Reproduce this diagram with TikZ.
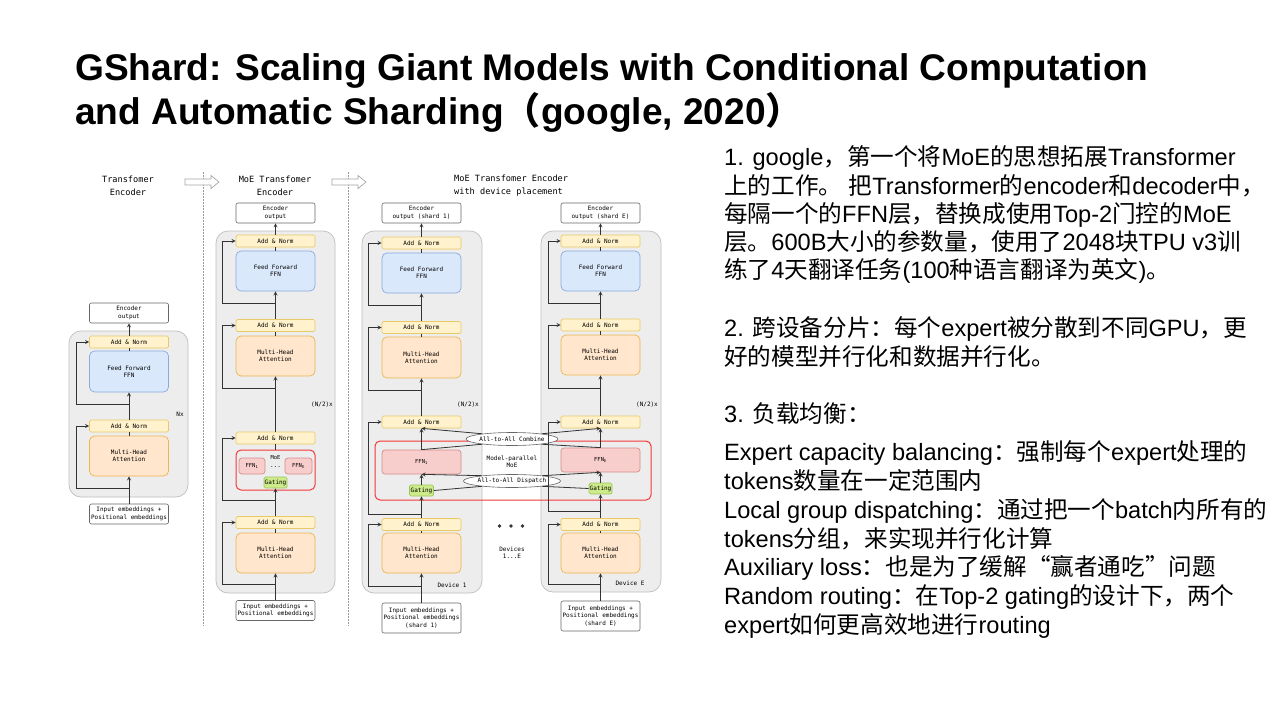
\documentclass[tikz,border=0pt]{standalone}
\usepackage{fontspec}
\setmainfont{Liberation Sans}
\setmonofont{DejaVu Sans Mono}
\newfontfamily\cjk{Noto Sans CJK SC}
\usetikzlibrary{shapes.geometric, arrows, positioning}

\newcommand{\zh}[1]{{\cjk #1}}
\newcommand{\diagfont}{\fontsize{6}{7.4}\selectfont\ttfamily}

\definecolor{panelgray}{HTML}{EDEDED}
\definecolor{panelline}{HTML}{BFBFBF}
\definecolor{normfill}{HTML}{FFF2CC}
\definecolor{normline}{HTML}{E9C965}
\definecolor{fffill}{HTML}{DAE8FC}
\definecolor{ffline}{HTML}{88AADD}
\definecolor{attnfill}{HTML}{FFE6CC}
\definecolor{attnline}{HTML}{EBB54F}
\definecolor{expfill}{HTML}{F8CECC}
\definecolor{expline}{HTML}{D48C8A}
\definecolor{gatefill}{HTML}{CDEB8B}
\definecolor{gateline}{HTML}{9CC45C}
\definecolor{moered}{HTML}{F43838}
\definecolor{ioline}{HTML}{666666}
\definecolor{wirecol}{HTML}{333333}

\tikzstyle{slidetitle} = [align=left, inner sep=0pt,
font=\fontsize{37.1}{44}\selectfont\bfseries]
\tikzstyle{bodytext} = [align=left, inner sep=0pt,
font=\fontsize{23.6}{28.3}\selectfont]
\tikzstyle{panel} = [rectangle, rounded corners=12pt,
inner sep=0pt,
draw=panelline, line width=0.7pt,
fill=panelgray]
\tikzstyle{addnorm} = [rectangle, rounded corners=1.5pt,
minimum width=79pt,
minimum height=12pt,
inner sep=0pt, font=\diagfont,
draw=normline, line width=0.7pt,
fill=normfill]
\tikzstyle{ffwd} = [rectangle, rounded corners=5pt,
minimum width=79pt,
minimum height=40pt,
inner sep=0pt, align=center, font=\diagfont,
draw=ffline, line width=0.7pt,
fill=fffill]
\tikzstyle{attn} = [rectangle, rounded corners=5pt,
minimum width=79pt,
minimum height=40pt,
inner sep=0pt, align=center, font=\diagfont,
draw=attnline, line width=0.7pt,
fill=attnfill]
\tikzstyle{iobox} = [rectangle, rounded corners=2pt,
minimum width=79pt,
minimum height=20pt,
inner sep=0pt, align=center, font=\diagfont,
draw=ioline, line width=0.6pt,
fill=white]
\tikzstyle{expert} = [rectangle, rounded corners=3pt,
inner sep=0pt, font=\fontsize{5.5}{6.5}\selectfont\ttfamily,
draw=expline, line width=0.7pt,
fill=expfill]
\tikzstyle{gate} = [rectangle, rounded corners=1.5pt,
minimum width=23pt,
minimum height=11pt,
inner sep=0pt, font=\diagfont,
draw=gateline, line width=0.7pt,
fill=gatefill]
\tikzstyle{moebox} = [rectangle, rounded corners=5pt,
inner sep=0pt,
draw=moered, line width=1pt]
\tikzstyle{a2a} = [ellipse,
minimum width=80pt,
minimum height=13pt,
inner sep=0pt, font=\diagfont,
draw=ioline, line width=0.6pt,
fill=white]
\tikzstyle{coltitle} = [align=center, inner sep=0pt,
font=\fontsize{8.6}{13}\selectfont\ttfamily]
\tikzstyle{note} = [align=center, inner sep=0pt, font=\diagfont]
\tikzstyle{sepline} = [draw=gray!80, line width=0.6pt, dash pattern=on 1.5pt off 1.5pt]
\tikzstyle{hollow} = [draw=gray!70, line width=0.7pt, fill=white]
\tikzstyle{link} = [draw=wirecol, line width=0.8pt]
\tikzstyle{arrow} = [draw=wirecol, line width=0.8pt, ->, >=stealth]

\begin{document}
\begin{tikzpicture}[x=1pt, y=-1pt]
    \fill [white] (0,0) rectangle (1280,720);
    \useasboundingbox (0,0) rectangle (1280,720);

    % slide title (base = last line)
    \node (title) [slidetitle, anchor=base west] at (75,124)
    {GShard: Scaling Giant Models with Conditional Computation\\
    and Automatic Sharding\zh{（}google, 2020\zh{）}};

    % separators between the three figures
    \draw [sepline] (203,172) -- (203,626);
    \draw [sepline] (348,172) -- (348,626);
    \draw [hollow] (185,179) -- (211,179) -- (211,175.5) -- (219,182) -- (211,188.5) -- (211,185) -- (185,185) -- cycle;
    \draw [hollow] (332,179) -- (358,179) -- (358,175.5) -- (366,182) -- (358,188.5) -- (358,185) -- (332,185) -- cycle;

    % plain transformer encoder
    \node (titleL) [coltitle] at (128,185.5) {Transfomer\\Encoder};
    \node (panelL) [panel, minimum width=119pt, minimum height=166pt] at (128.5,414) {};
    \node (encL) [iobox] at (129,313) {Encoder\\output};
    \node (anL1) [addnorm] at (129,342) {Add \& Norm};
    \node (ffL) [ffwd, minimum height=41pt] at (129,371.5) {Feed Forward\\FFN};
    \node (anL2) [addnorm] at (129,426) {Add \& Norm};
    \node (mhL) [attn] at (129,456) {Multi-Head\\Attention};
    \node (inL) [iobox] at (129,514) {Input embeddings +\\Positional embeddings};
    \node (nx) [note] at (180,414) {Nx};
    \coordinate (rL1) at (129,404);
    \coordinate (rL2) at (129,488);

    \draw [arrow] (inL.north) -- (mhL.south);
    \draw [link] (mhL.north) -- (anL2.south);
    \draw [arrow] (anL2.north) -- (ffL.south);
    \draw [link] (ffL.north) -- (anL1.south);
    \draw [arrow] (anL1.north) -- (encL.south);
    \draw [arrow] (rL2) -- ++(-53,0) |- (anL2.west);
    \draw [arrow] (rL1) -- ++(-53,0) |- (anL1.west);

    % MoE transformer encoder
    \node (titleM) [coltitle] at (275,185.5) {MoE Transfomer\\Encoder};
    \node (panelM) [panel, minimum width=119pt, minimum height=362pt] at (275.5,412) {};
    \node (encM) [iobox] at (275.5,213) {Encoder\\output};
    \node (anM1) [addnorm] at (275.5,241) {Add \& Norm};
    \node (ffM) [ffwd] at (275.5,271) {Feed Forward\\FFN};
    \node (anM2) [addnorm] at (275.5,325.5) {Add \& Norm};
    \node (mhM) [attn] at (275.5,356) {Multi-Head\\Attention};
    \node (nM) [note] at (322,405) {(N/2)x};
    \node (anM3) [addnorm] at (275.5,438) {Add \& Norm};
    \node (moeM) [moebox, minimum width=79pt, minimum height=40pt] at (275.5,470) {};
    \node (moeTag) [note, font=\fontsize{5.5}{6.5}\selectfont\ttfamily] at (275.5,457.5) {MoE};
    \node (ffnM1) [expert, minimum width=26pt, minimum height=16pt] at (252,466) {FFN\textsubscript{1}};
    \node (ffnME) [expert, minimum width=27pt, minimum height=16pt] at (298.5,466) {FFN\textsubscript{E}};
    \node (dotsM) [note] at (275.5,467.5) {...};
    \node (gateM) [gate] at (275.5,482.5) {Gating};
    \node (anM4) [addnorm] at (275.5,522.5) {Add \& Norm};
    \node (mhM2) [attn] at (275.5,553) {Multi-Head\\Attention};
    \node (inM) [iobox] at (275.5,610.5) {Input embeddings +\\Positional embeddings};
    \coordinate (rM1) at (275.5,303);
    \coordinate (rM2) at (275.5,388);
    \coordinate (rM3) at (275.5,500);
    \coordinate (rM4) at (275.5,584);

    \draw [arrow] (inM.north) -- (mhM2.south);
    \draw [link] (mhM2.north) -- (anM4.south);
    \draw [arrow] (anM4.north) -- (gateM.south);
    \draw [link] (moeM.north) -- (anM3.south);
    \draw [arrow] (anM3.north) -- (mhM.south);
    \draw [link] (mhM.north) -- (anM2.south);
    \draw [arrow] (anM2.north) -- (ffM.south);
    \draw [link] (ffM.north) -- (anM1.south);
    \draw [arrow] (anM1.north) -- (encM.south);
    \draw [arrow] (rM4) -- ++(-53,0) |- (anM4.west);
    \draw [arrow] (rM3) -- ++(-53,0) |- (anM3.west);
    \draw [arrow] (rM2) -- ++(-53,0) |- (anM2.west);
    \draw [arrow] (rM1) -- ++(-53,0) |- (anM1.west);

    % MoE encoder with device placement
    \node (titleD) [coltitle, align=left, anchor=west] at (454,185.5) {MoE Transfomer Encoder\\with device placement};
    \node (panel1) [panel, minimum width=120pt, minimum height=362pt] at (422,412) {};
    \node (panelE) [panel, minimum width=120pt, minimum height=361pt] at (601,411.5) {};
    \node (moeBig) [moebox, minimum width=276pt, minimum height=59pt] at (513,470.5) {};
    \node (mpTag) [note] at (512,462) {Model-parallel\\MoE};
    \node (combine) [a2a] at (512,439) {All-to-All Combine};
    \node (dispatch) [a2a] at (512,481) {All-to-All Dispatch};
    \fill [wirecol] (499.5,526) circle (1.8pt) (511,526) circle (1.8pt) (522.5,526) circle (1.8pt);
    \node (devs) [note] at (512,553) {Devices\\1...E};

    % device 1
    \node (enc1) [iobox] at (421.5,213) {Encoder\\output (shard 1)};
    \node (an11) [addnorm] at (421.5,243) {Add \& Norm};
    \node (ff1) [ffwd] at (421.5,273) {Feed Forward\\FFN};
    \node (an12) [addnorm] at (421.5,327.5) {Add \& Norm};
    \node (mh1) [attn, minimum height=41pt] at (421.5,357.5) {Multi-Head\\Attention};
    \node (n1) [note] at (468,405) {(N/2)x};
    \node (an13) [addnorm] at (421.5,422) {Add \& Norm};
    \node (ffn1) [expert, minimum width=79pt, minimum height=24pt] at (421.5,462) {FFN\textsubscript{1}};
    \node (gate1) [gate, minimum width=24pt] at (421.5,490.5) {Gating};
    \node (an14) [addnorm] at (421.5,524.5) {Add \& Norm};
    \node (mh14) [attn] at (421.5,553) {Multi-Head\\Attention};
    \node (dev1) [note] at (452,585) {Device 1};
    \node (in1) [iobox, minimum height=30pt] at (421.5,618) {Input embeddings +\\Positional embeddings\\(shard 1)};
    \coordinate (r11) at (421.5,305);
    \coordinate (r12) at (421.5,390);
    \coordinate (r13) at (421.5,514);
    \coordinate (r14) at (421.5,586);

    % device E
    \node (encE) [iobox] at (600.5,213) {Encoder\\output (shard E)};
    \node (anE1) [addnorm] at (600.5,241) {Add \& Norm};
    \node (ffE) [ffwd] at (600.5,271) {Feed Forward\\FFN};
    \node (anE2) [addnorm] at (600.5,325) {Add \& Norm};
    \node (mhE) [attn] at (600.5,355) {Multi-Head\\Attention};
    \node (nE) [note] at (647,405) {(N/2)x};
    \node (anE3) [addnorm] at (600.5,422) {Add \& Norm};
    \node (ffnE) [expert, minimum width=79pt, minimum height=24pt] at (600.5,460) {FFN\textsubscript{E}};
    \node (gateE) [gate] at (600.5,488.5) {Gating};
    \node (anE4) [addnorm] at (600.5,524.5) {Add \& Norm};
    \node (mhE2) [attn] at (600.5,553) {Multi-Head\\Attention};
    \node (devE) [note] at (630,583) {Device E};
    \node (inE) [iobox, minimum height=30pt] at (600.5,616) {Input embeddings +\\Positional embeddings\\(shard E)};
    \coordinate (rE1) at (600.5,303);
    \coordinate (rE2) at (600.5,388);
    \coordinate (rE3) at (600.5,511);
    \coordinate (rE4) at (600.5,584);

    \draw [arrow] (in1.north) -- (mh14.south);
    \draw [link] (mh14.north) -- (an14.south);
    \draw [arrow] (an14.north) -- (gate1.south);
    \draw [arrow] (gate1.north) -- (ffn1.south);
    \draw [arrow] (ffn1.north) -- (an13.south);
    \draw [arrow] (an13.north) -- (mh1.south);
    \draw [link] (mh1.north) -- (an12.south);
    \draw [arrow] (an12.north) -- (ff1.south);
    \draw [link] (ff1.north) -- (an11.south);
    \draw [arrow] (an11.north) -- (enc1.south);
    \draw [arrow] (r14) -- ++(-53.5,0) |- (an14.west);
    \draw [arrow] (r13) -- ++(-53.5,0) |- (an13.west);
    \draw [arrow] (r12) -- ++(-53.5,0) |- (an12.west);
    \draw [arrow] (r11) -- ++(-53.5,0) |- (an11.west);

    \draw [arrow] (inE.north) -- (mhE2.south);
    \draw [link] (mhE2.north) -- (anE4.south);
    \draw [arrow] (anE4.north) -- (gateE.south);
    \draw [arrow] (gateE.north) -- (ffnE.south);
    \draw [arrow] (ffnE.north) -- (anE3.south);
    \draw [arrow] (anE3.north) -- (mhE.south);
    \draw [link] (mhE.north) -- (anE2.south);
    \draw [arrow] (anE2.north) -- (ffE.south);
    \draw [link] (ffE.north) -- (anE1.south);
    \draw [arrow] (anE1.north) -- (encE.south);
    \draw [arrow] (rE4) -- ++(-52.5,0) |- (anE4.west);
    \draw [arrow] (rE3) -- ++(-52.5,0) |- (anE3.west);
    \draw [arrow] (rE2) -- ++(-52.5,0) |- (anE2.west);
    \draw [arrow] (rE1) -- ++(-52.5,0) |- (anE1.west);

    % all-to-all exchange
    \draw [link] (gate1.east) -- (dispatch.190);
    \draw [arrow] (dispatch.170) -- (ffn1.south);
    \draw [link] (gateE.west) -- (dispatch.350);
    \draw [arrow] (dispatch.10) -- (ffnE.south);
    \draw [link] (ffn1.north) -- (combine.190);
    \draw [arrow] (combine.170) -- (an13.south);
    \draw [link] (ffnE.north) -- (combine.350);
    \draw [arrow] (combine.10) -- (anE3.south);

    % notes on the right (base = last line of each node)
    \node (item1) [bodytext, anchor=base west] at (724,278.9)
    {1. google\zh{，第一个将}MoE\zh{的思想拓展}Transformer\\
    \zh{上的工作。} \zh{把}Transformer\zh{的}encoder\zh{和}decoder\zh{中，}\\
    \zh{每隔一个的}FFN\zh{层，替换成使用}Top-2\zh{门控的}MoE\\
    \zh{层。}600B\zh{大小的参数量，使用了}2048\zh{块}TPU v3\zh{训}\\
    \zh{练了}4\zh{天翻译任务}(100\zh{种语言翻译为英文})\zh{。}};
    \node (item2) [bodytext, anchor=base west] at (724,365)
    {2. \zh{跨设备分片：每个}expert\zh{被分散到不同}GPU\zh{，更}\\
    \zh{好的模型并行化和数据并行化。}};
    \node (item3) [bodytext, anchor=base west] at (724,422.7)
    {3. \zh{负载均衡：}};
    \node (item4) [bodytext, font=\fontsize{23.6}{28.8}\selectfont, anchor=base west] at (724,633.5)
    {Expert capacity balancing\zh{：强制每个}expert\zh{处理的}\\
    tokens\zh{数量在一定范围内}\\
    Local group dispatching\zh{：通过把一个}batch\zh{内所有的}\\
    tokens\zh{分组，来实现并行化计算}\\
    Auxiliary loss\zh{：也是为了缓解“赢者通吃”问题}\\
    Random routing\zh{：在}Top-2 gating\zh{的设计下，两个}\\
    expert\zh{如何更高效地进行}routing};
\end{tikzpicture}
\end{document}
